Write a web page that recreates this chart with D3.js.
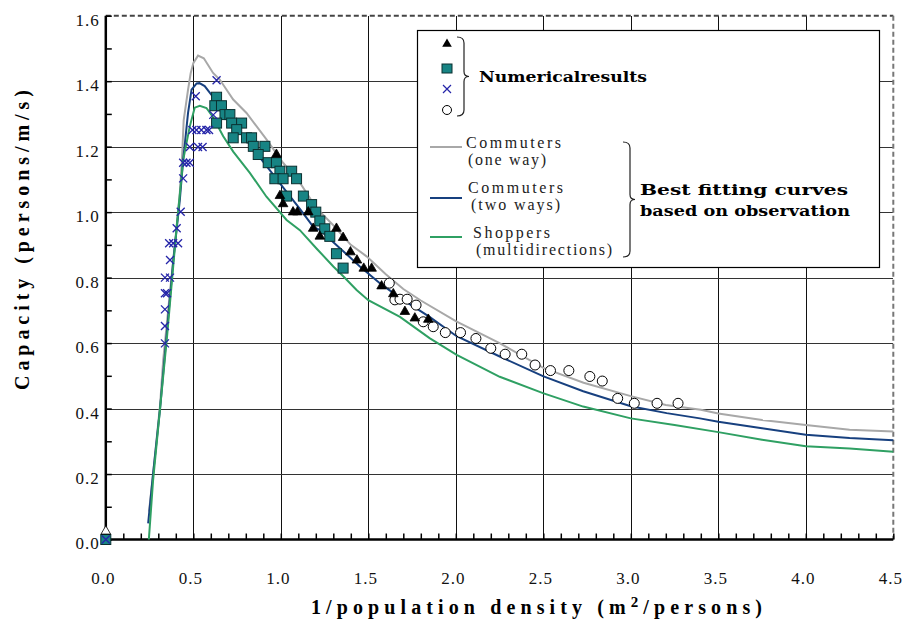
<!DOCTYPE html>
<html>
<head>
<meta charset="utf-8">
<script src="https://cdn.jsdelivr.net/npm/d3@7"></script>
<style>
  body { margin: 0; background: #fff; }
  svg { display: block; }
  .serif { font-family: "Liberation Serif", "Times New Roman", "DejaVu Serif", serif; }
  .slab { font-family: "DejaVu Serif", serif; }
</style>
</head>
<body>
<div id="chart"></div>
<script>
// values: [1/density, capacity]
const xTicks = [0, 0.5, 1.0, 1.5, 2.0, 2.5, 3.0, 3.5, 4.0, 4.5]
const yTicks = [0, 0.2, 0.4, 0.6, 0.8, 1.0, 1.2, 1.4, 1.6]

const commutersOneWay = [
  [0.247,0.085],[0.27,0.2],[0.31,0.41],[0.328,0.548],[0.366,0.752],[0.4,0.93],[0.423,1.058],
  [0.435,1.16],[0.445,1.28],[0.47,1.374],[0.485,1.424],[0.5,1.455],[0.527,1.478],[0.56,1.47],
  [0.613,1.425],[0.651,1.405],[0.728,1.344],[0.804,1.303],[0.918,1.222],[1.014,1.15],[1.109,1.09],
  [1.204,1.012],[1.3,0.96],[1.4,0.9],[1.49,0.865],[1.6,0.81],[1.7,0.765],[1.8,0.73],[2.0,0.667],
  [2.25,0.6],[2.5,0.524],[2.73,0.479],[3.0,0.438],[3.2,0.411],[3.4,0.396],[3.5,0.385],
  [3.75,0.365],[4.0,0.35],[4.25,0.335],[4.5,0.33]
]
const commutersTwoWays = [
  [0.242,0.049],[0.27,0.2],[0.31,0.4],[0.35,0.64],[0.386,0.854],[0.423,1.037],[0.442,1.159],
  [0.47,1.303],[0.49,1.374],[0.519,1.393],[0.535,1.394],[0.565,1.385],[0.595,1.364],
  [0.728,1.272],[0.823,1.206],[0.918,1.141],[1.014,1.075],[1.109,1.01],[1.186,0.955],
  [1.224,0.945],[1.338,0.89],[1.452,0.834],[1.566,0.783],[1.681,0.738],[1.85,0.68],
  [2.005,0.621],[2.251,0.559],[2.498,0.499],[2.728,0.453],[3.0,0.407],[3.205,0.386],
  [3.395,0.37],[3.5,0.36],[3.75,0.34],[4.0,0.32],[4.25,0.31],[4.5,0.303]
]
const shoppers = [
  [0.246,0.0],[0.27,0.18],[0.31,0.4],[0.35,0.62],[0.405,0.955],[0.442,1.159],[0.48,1.262],
  [0.508,1.319],[0.537,1.325],[0.575,1.318],[0.613,1.29],[0.671,1.232],[0.728,1.185],
  [0.823,1.12],[0.918,1.047],[1.033,0.976],[1.109,0.945],[1.204,0.889],[1.3,0.834],
  [1.357,0.804],[1.433,0.762],[1.5,0.731],[1.681,0.68],[1.85,0.615],[2.005,0.564],
  [2.251,0.497],[2.498,0.447],[2.728,0.406],[3.0,0.37],[3.25,0.35],[3.5,0.328],
  [3.75,0.305],[4.0,0.285],[4.25,0.278],[4.5,0.268]
]

const triangles = [
  [0,0.025],[0.975,1.176],[0.995,1.05],[1.013,1.025],[1.07,1.0],[1.095,1.0],[1.157,1.0],
  [1.185,0.95],[1.223,0.926],[1.318,0.95],[1.356,0.922],[1.398,0.878],[1.435,0.853],
  [1.474,0.828],[1.519,0.828],[1.576,0.774],[1.643,0.75],[1.709,0.696],[1.766,0.676],[1.843,0.672]
]
const squares = [
  [0,0],[0.633,1.351],[0.623,1.325],[0.661,1.325],[0.681,1.298],[0.709,1.298],[0.633,1.272],
  [0.719,1.272],[0.776,1.272],[0.748,1.252],[0.728,1.227],[0.804,1.227],[0.833,1.227],
  [0.843,1.201],[0.909,1.201],[0.871,1.176],[0.928,1.151],[0.975,1.151],[0.995,1.125],
  [1.062,1.125],[0.966,1.102],[1.013,1.102],[1.09,1.102],[1.033,1.049],[1.129,1.049],
  [1.176,1.023],[1.2,1.0],[1.223,0.973],[1.251,0.949],[1.28,0.926],[1.318,0.873],[1.356,0.829]
]
const crosses = [
  [0,0],[0.338,0.599],[0.338,0.652],[0.338,0.703],[0.338,0.752],[0.35,0.752],[0.338,0.8],
  [0.367,0.8],[0.367,0.854],[0.362,0.905],[0.385,0.905],[0.413,0.905],[0.405,0.951],
  [0.428,1.001],[0.442,1.103],[0.442,1.151],[0.461,1.151],[0.48,1.151],[0.48,1.199],
  [0.527,1.199],[0.553,1.199],[0.495,1.251],[0.518,1.251],[0.546,1.251],[0.575,1.251],
  [0.59,1.251],[0.614,1.297],[0.514,1.354],[0.633,1.403]
]
const circles = [
  [1.62,0.783],[1.652,0.732],[1.681,0.734],[1.722,0.734],[1.773,0.716],[1.814,0.665],
  [1.871,0.65],[1.94,0.632],[2.027,0.632],[2.115,0.614],[2.2,0.584],[2.282,0.566],
  [2.377,0.566],[2.453,0.533],[2.541,0.516],[2.646,0.516],[2.766,0.498],[2.837,0.484],
  [2.925,0.431],[3.02,0.416],[3.15,0.416],[3.27,0.416]
]

const curveNames = [['Commuters', '(one way)'], ['Commuters', '(two ways)'], ['Shoppers', '(multidirections)']]
const curveColors = ['#a8a8a8', '#17407f', '#2fa063']

const width = 907
const height = 628
const x = d3.scaleLinear().domain([0, 4.5]).range([105.8, 893.3])
const y = d3.scaleLinear().domain([0, 1.6]).range([539.5, 15.7])
const plotH = y(0) - y(1.6)

const svg = d3.select('#chart').append('svg')
  .attr('width', width)
  .attr('height', height)

svg.append('rect').attr('width', width).attr('height', height).attr('fill', '#fff')

// grid
svg.append('g')
  .attr('transform', `translate(0,${y(0)})`)
  .call(d3.axisBottom(x).tickValues(xTicks.slice(1, -1)).tickSize(-plotH).tickFormat(''))
  .call(g => g.select('.domain').remove())
  .selectAll('line').attr('stroke', '#111').attr('shape-rendering', 'crispEdges')

svg.append('g')
  .attr('transform', `translate(${x(0)},0)`)
  .call(d3.axisLeft(y).tickValues(yTicks.slice(1, -1)).tickSize(-(x(4.5) - x(0))).tickFormat(''))
  .call(g => g.select('.domain').remove())
  .selectAll('line').attr('stroke', '#333').attr('shape-rendering', 'crispEdges')

// frame: dashed top and right
svg.append('line')
  .attr('x1', x(0)).attr('x2', x(4.5)).attr('y1', y(1.6)).attr('y2', y(1.6))
  .attr('stroke', '#444').attr('stroke-width', 2).attr('stroke-dasharray', '5,3')
svg.append('line')
  .attr('x1', x(4.5)).attr('x2', x(4.5)).attr('y1', y(1.6)).attr('y2', y(0))
  .attr('stroke', '#777').attr('stroke-width', 2).attr('stroke-dasharray', '5,3')

// minor ticks
svg.append('g')
  .attr('transform', `translate(0,${y(0)})`)
  .call(d3.axisBottom(x).tickValues(d3.range(0, 46).map(i => i / 10)).tickSize(-6).tickFormat(''))
  .call(g => g.select('.domain').remove())
  .selectAll('line').attr('stroke', '#000').attr('stroke-width', 1.5)

svg.append('g')
  .attr('transform', `translate(${x(0)},0)`)
  .call(d3.axisLeft(y).tickValues(d3.range(0, 17).map(i => i / 10)).tickSize(-6).tickFormat(''))
  .call(g => g.select('.domain').remove())
  .selectAll('line').attr('stroke', '#000').attr('stroke-width', 1.5)

// axis lines
svg.append('line')
  .attr('x1', x(0)).attr('x2', x(0)).attr('y1', y(1.6)).attr('y2', y(0))
  .attr('stroke', '#000').attr('stroke-width', 2.5)
svg.append('line')
  .attr('x1', x(0)).attr('x2', x(4.5)).attr('y1', y(0)).attr('y2', y(0))
  .attr('stroke', '#000').attr('stroke-width', 2.5)

// tick labels
const fmt = d3.format('.1f')
svg.append('g')
  .attr('transform', `translate(-3,${y(0)})`)
  .call(d3.axisBottom(x).tickValues(xTicks).tickSize(0).tickPadding(32).tickFormat(fmt))
  .call(g => g.select('.domain').remove())
  .call(g => g.attr('font-family', null).attr('font-size', null))
  .selectAll('text')
  .attr('class', 'serif').attr('font-size', 17).attr('fill', '#111')
  .attr('letter-spacing', 1)

svg.append('g')
  .attr('transform', `translate(${x(0) - 6},4)`)
  .call(d3.axisLeft(y).tickValues(yTicks).tickSize(0).tickPadding(0).tickFormat(fmt))
  .call(g => g.select('.domain').remove())
  .call(g => g.attr('font-family', null).attr('font-size', null))
  .selectAll('text')
  .attr('class', 'serif').attr('font-size', 17).attr('fill', '#111')
  .attr('letter-spacing', 1)

// axis titles
svg.append('text')
  .attr('class', 'serif')
  .attr('transform', 'translate(29,240) rotate(-90)')
  .attr('text-anchor', 'middle')
  .attr('font-weight', 'bold').attr('font-size', 20)
  .attr('textLength', 300).attr('lengthAdjust', 'spacing')
  .text('Capacity (persons/m/s)')

const xTitle = svg.append('text')
  .attr('class', 'serif')
  .attr('x', 311).attr('y', 614)
  .attr('font-weight', 'bold').attr('font-size', 20)
  .attr('textLength', 451).attr('lengthAdjust', 'spacing')
xTitle.append('tspan').text('1/population density (m')
xTitle.append('tspan').attr('dy', -7).attr('font-size', 15).text('2')
xTitle.append('tspan').attr('dy', 7).text('/persons)')

// curves
const line = d3.line().x(d => x(d[0])).y(d => y(d[1]))
;[commutersOneWay, commutersTwoWays, shoppers].forEach((data, i) => {
  svg.append('path')
    .datum(data)
    .attr('d', line)
    .attr('fill', 'none')
    .attr('stroke', curveColors[i])
    .attr('stroke-width', 2)
})

// markers
const crossPath = 'M-4,-4L4,4M-4,4L4,-4'
const triPath = d3.symbol().type(d3.symbolTriangle).size(40)()
const markers = svg.append('g')

markers.selectAll('.circ').data(circles).enter().append('circle')
  .attr('cx', d => x(d[0])).attr('cy', d => y(d[1])).attr('r', 5)
  .attr('fill', '#fff').attr('stroke', '#000').attr('stroke-width', 1)

markers.selectAll('.sq').data(squares).enter().append('rect')
  .attr('x', d => x(d[0]) - 5).attr('y', d => y(d[1]) - 5)
  .attr('width', 10).attr('height', 10)
  .attr('fill', '#178484').attr('stroke', '#0b3030').attr('stroke-width', 1)

markers.selectAll('.tri').data(triangles).enter().append('path')
  .attr('d', triPath)
  .attr('transform', d => `translate(${x(d[0])},${y(d[1])})`)
  .attr('fill', (d, i) => i === 0 ? '#fff' : '#000')
  .attr('stroke', '#000').attr('stroke-width', 0.8)

markers.selectAll('.cr').data(crosses).enter().append('path')
  .attr('d', crossPath)
  .attr('transform', d => `translate(${x(d[0])},${y(d[1])})`)
  .attr('fill', 'none').attr('stroke', '#2424a8').attr('stroke-width', 1.3)

// legend
const legend = svg.append('g')
legend.append('rect')
  .attr('x', 417.5).attr('y', 30.5).attr('width', 462).attr('height', 237)
  .attr('fill', '#fff').attr('stroke', '#000').attr('stroke-width', 1.2)

legend.append('path').attr('d', triPath).attr('transform', 'translate(447,44)').attr('fill', '#000')
legend.append('rect').attr('x', 442).attr('y', 64).attr('width', 10).attr('height', 9)
  .attr('fill', '#178484').attr('stroke', '#0b3030')
legend.append('path').attr('d', crossPath).attr('transform', 'translate(447,89)')
  .attr('stroke', '#2424a8').attr('stroke-width', 1.2)
legend.append('circle').attr('cx', 447).attr('cy', 110).attr('r', 4.5)
  .attr('fill', '#fff').attr('stroke', '#000')

const brace = (x0, y0, y1, w) => {
  const m = (y0 + y1) / 2
  return `M${x0},${y0} Q${x0 + w},${y0} ${x0 + w},${y0 + 6} L${x0 + w},${m - 5} Q${x0 + w},${m} ${x0 + w + 5},${m}` +
    ` Q${x0 + w},${m} ${x0 + w},${m + 5} L${x0 + w},${y1 - 6} Q${x0 + w},${y1} ${x0},${y1}`
}
legend.append('path').attr('d', brace(457, 37, 116, 7))
  .attr('fill', 'none').attr('stroke', '#222').attr('stroke-width', 1.2)
legend.append('path').attr('d', brace(623, 142, 257, 7))
  .attr('fill', 'none').attr('stroke', '#222').attr('stroke-width', 1.2)

legend.append('text').attr('class', 'slab').attr('x', 479).attr('y', 82)
  .attr('font-weight', 'bold').attr('font-size', 15)
  .attr('textLength', 168).attr('lengthAdjust', 'spacingAndGlyphs')
  .text('Numericalresults')

const legendRows = [
  { ly: 147, t1: [466, 148, 95], t2: [468, 165, 78] },
  { ly: 198, t1: [468, 193, 95], t2: [471, 210, 89] },
  { ly: 237, t1: [473, 238, 77], t2: [476, 255, 136] }
]
legendRows.forEach((r, i) => {
  legend.append('line').attr('x1', 430).attr('x2', 462).attr('y1', r.ly).attr('y2', r.ly)
    .attr('stroke', curveColors[i]).attr('stroke-width', 2)
  ;[r.t1, r.t2].forEach((t, j) => {
    legend.append('text').attr('class', 'serif').attr('x', t[0]).attr('y', t[1])
      .attr('font-size', 16).attr('fill', '#222')
      .attr('textLength', t[2]).attr('lengthAdjust', 'spacing')
      .text(curveNames[i][j])
  })
})

legend.append('text').attr('class', 'slab').attr('x', 640).attr('y', 195)
  .attr('font-weight', 'bold').attr('font-size', 15)
  .attr('textLength', 208).attr('lengthAdjust', 'spacingAndGlyphs')
  .text('Best fitting curves')
legend.append('text').attr('class', 'slab').attr('x', 640).attr('y', 216)
  .attr('font-weight', 'bold').attr('font-size', 15)
  .attr('textLength', 210).attr('lengthAdjust', 'spacingAndGlyphs')
  .text('based on observation')
</script>
</body>
</html>
